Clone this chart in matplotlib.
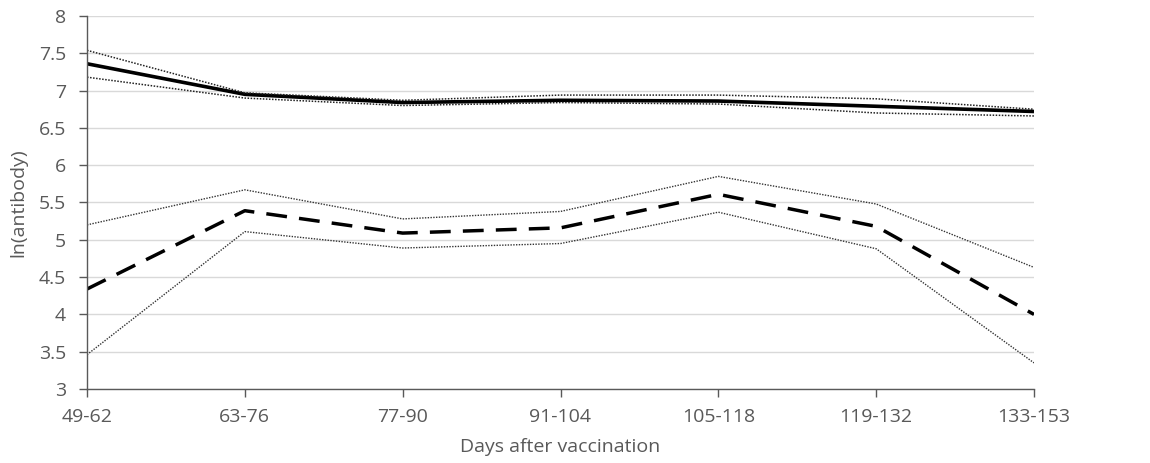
import matplotlib
matplotlib.use("Agg")
import matplotlib.pyplot as plt

days = ["49-62", "63-76", "77-90", "91-104", "105-118", "119-132", "133-153"]

solid_mean = [7.36, 6.95, 6.84, 6.87, 6.86, 6.79, 6.72]
solid_upper = [7.54, 6.97, 6.87, 6.94, 6.94, 6.89, 6.75]
solid_lower = [7.18, 6.90, 6.80, 6.84, 6.82, 6.70, 6.66]

dashed_mean = [4.34, 5.39, 5.09, 5.16, 5.61, 5.18, 4.00]
dashed_upper = [5.20, 5.67, 5.28, 5.38, 5.85, 5.48, 4.63]
dashed_lower = [3.46, 5.11, 4.89, 4.95, 5.37, 4.88, 3.35]

plt.rcParams["font.family"] = ["Open Sans", "DejaVu Sans"]

fig = plt.figure(figsize=(11.5, 4.63), dpi=100)
ax = fig.add_axes([87 / 1150, 1 - 389 / 463, (1034 - 87) / 1150, (389 - 16) / 463])

x = range(len(days))
ax.plot(x, solid_mean, color="black", linewidth=2.6, solid_capstyle="butt")
ax.plot(x, solid_upper, color="#222222", linewidth=1.1, linestyle=(0, (1, 1)))
ax.plot(x, solid_lower, color="#222222", linewidth=1.1, linestyle=(0, (1, 1)))
ax.plot(x, dashed_mean, color="black", linewidth=2.5, linestyle=(0, (6, 3.5)))
ax.plot(x, dashed_upper, color="#333333", linewidth=1.0, linestyle=(0, (1, 1)))
ax.plot(x, dashed_lower, color="#333333", linewidth=1.0, linestyle=(0, (1, 1)))

ax.set_xlim(0, len(days) - 1)
ax.set_ylim(3, 8)
ax.set_xticks(list(x))
ax.set_xticklabels(days)
ax.set_yticks([3, 3.5, 4, 4.5, 5, 5.5, 6, 6.5, 7, 7.5, 8])
ax.set_yticklabels(["3", "3.5", "4", "4.5", "5", "5.5", "6", "6.5", "7", "7.5", "8"])

ax.grid(axis="y", color="#d9d9d9", linewidth=1)
ax.set_axisbelow(True)
for side in ["top", "right"]:
    ax.spines[side].set_visible(False)
for side in ["left", "bottom"]:
    ax.spines[side].set_color("#595959")
    ax.spines[side].set_linewidth(1)

ax.tick_params(axis="both", colors="#595959", labelsize=14, length=6, width=1)
ax.tick_params(axis="x", pad=8)
ax.tick_params(axis="y", pad=9)
ax.set_xlabel("Days after vaccination", color="#595959", fontsize=14, labelpad=8)
ax.set_ylabel("ln(antibody)", color="#595959", fontsize=14, labelpad=8)

fig.savefig("out.png", dpi=100)
